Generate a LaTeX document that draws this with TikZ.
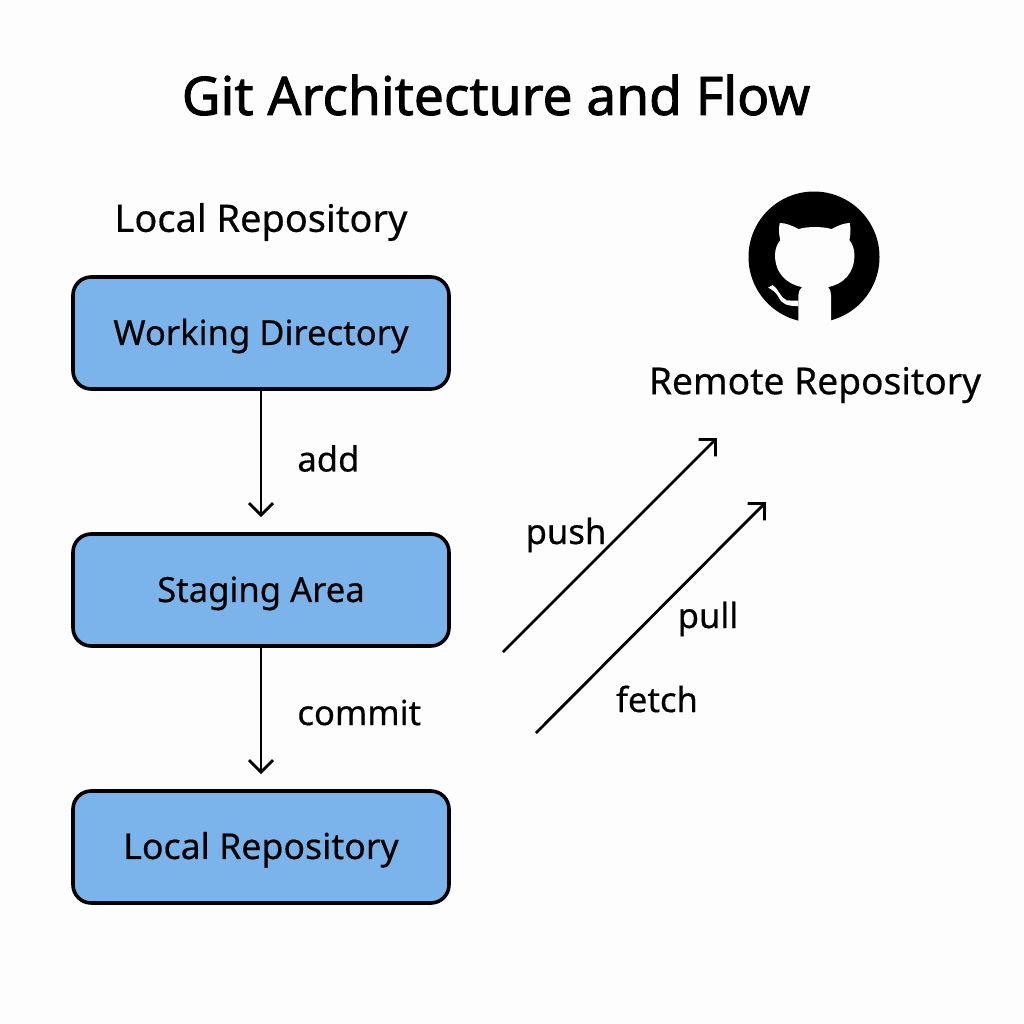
\documentclass[tikz,border=0pt]{standalone}
\usepackage{fontspec}
\setmainfont{Noto Sans}
\newfontfamily\titlefont[FakeBold=1.6]{Noto Sans}
\newfontfamily\bodyfont[FakeBold=0.4]{Noto Sans}
\usetikzlibrary{positioning,arrows.meta}
\definecolor{boxblue}{HTML}{7BB4EA}
\definecolor{pagegray}{HTML}{FDFDFD}
\newlength{\pxu}
\setlength{\pxu}{0.0264cm}
\tikzset{
  repobox/.style={draw=black, line width=2.7pt, rounded corners=4.8mm, fill=boxblue, minimum width=376\pxu, minimum height=112\pxu, text height=24pt, text depth=6pt, inner sep=0pt, font=\fontsize{26}{30}\selectfont\bodyfont},
  lbl/.style={font=\fontsize{26}{30}\selectfont\bodyfont, inner sep=0pt},
  headlbl/.style={font=\fontsize{28.5}{32}\selectfont\bodyfont, inner sep=0pt},
  flow/.style={-{Straight Barb[length=3.2mm,width=6.3mm]}, line width=2.1pt}
}
\begin{document}
\begin{tikzpicture}[x=0.0264cm,y=-0.0264cm]
\useasboundingbox[fill=pagegray] (0,0) rectangle (1024,1024);
% title and group headings
\node[inner sep=0pt, font=\fontsize{40}{44}\selectfont\titlefont] (title) at (496,95) {Git Architecture and Flow};
\node[headlbl] (localhead) at (261,222) {Local Repository};
\node[headlbl, font=\fontsize{27.9}{32}\selectfont\bodyfont] (remotehead) at (815,385) {Remote Repository};

\node[repobox] (working) at (261,333) {Working Directory};
\node[repobox] (staging) at (261,590) {Staging Area};
\node[repobox, font=\fontsize{26.8}{30}\selectfont\bodyfont] (localrepo) at (261,847) {Local Repository};

\draw[flow, shorten >=15\pxu] (working) -- node[lbl, right=35\pxu, yshift=3\pxu] (addlbl) {add} (staging);
\draw[flow, shorten >=15\pxu] (staging) -- node[lbl, right=35\pxu, yshift=6\pxu] (commitlbl) {commit} (localrepo);

\coordinate (pushstart) at (503,652);
\coordinate (pushend) at (717,438);
\coordinate (pullstart) at (536,733);
\coordinate (pullend) at (766,502);
\draw[flow] (pushstart) -- (pushend);
\draw[flow] (pullstart) -- (pullend);
\node[lbl] (pushlbl) at (566,535) {push};
\node[lbl] (pulllbl) at (708,619) {pull};
\node[lbl] (fetchlbl) at (657,699) {fetch};

% remote logo
\fill[black] (814,257) circle (65.5);
\begin{scope}[shift={(730,180)},x=0.0088cm,y=-0.0088cm]
\fill[pagegray] (205,428) -- (205,345) .. controls (205,335) and (210,326) .. (216,321)
  .. controls (170,312) and (135,280) .. (135,225) .. controls (135,205) and (142,192) .. (151,180)
  .. controls (146,165) and (146,145) .. (149,129) .. controls (165,128) and (190,138) .. (205,147)
  .. controls (235,139) and (275,139) .. (305,147) .. controls (320,138) and (345,128) .. (359,129)
  .. controls (362,145) and (362,165) .. (358,180) .. controls (367,192) and (373,205) .. (373,225)
  .. controls (373,280) and (340,312) .. (294,321) .. controls (300,326) and (303,335) .. (303,345)
  -- (303,428) -- cycle;
\fill[pagegray] (114,323) -- (128,315) .. controls (145,325) and (150,352) .. (170,361)
  -- (205,362) -- (205,378) .. controls (170,378) and (155,372) .. (145,350)
  .. controls (137,335) and (125,328) .. (114,323) -- cycle;
\end{scope}
\end{tikzpicture}
\end{document}
